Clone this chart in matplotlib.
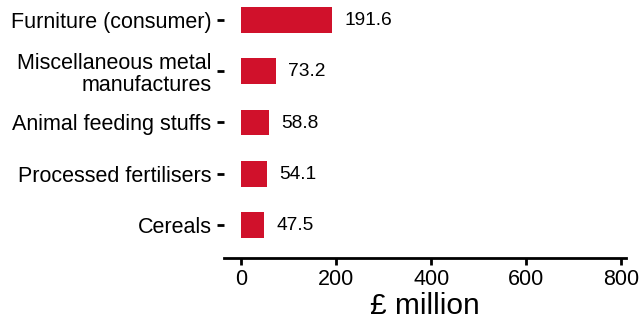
import matplotlib.pyplot as plt

plt.rcParams['font.family'] = ['Liberation Sans', 'DejaVu Sans']

categories = ["Furniture (consumer)", "Miscellaneous metal\nmanufactures",
              "Animal feeding stuffs", "Processed fertilisers", "Cereals"]
values = [191.6, 73.2, 58.8, 54.1, 47.5]
value_labels = ["191.6", "73.2", "58.8", "54.1", "47.5"]
x_ticks = [0, 200, 400, 600, 800]

fig = plt.figure(figsize=(6.41, 3.19), dpi=100)
ax = fig.add_axes([224 / 641, (319 - 258) / 319, (626 - 224) / 641, 258 / 319])

pos = list(range(len(categories)))
ax.barh(pos, values, height=0.5, color="#d0112b")
for p, v, lab in zip(pos, values, value_labels):
    ax.annotate(lab, (v, p), xytext=(9, -0.5), textcoords="offset points",
                va="center", ha="left", fontsize=13.8, color="#000000")

ax.set_yticks(pos)
ax.set_yticklabels(categories, fontsize=15.5, color="#000000", ha="right",
                   linespacing=1.1)
ax.set_xticks(x_ticks)
ax.set_xticklabels([str(t) for t in x_ticks], fontsize=15.5, color="#000000")
ax.set_xlim(-36, 810)
ax.set_ylim(4.644, -0.39)

for s in ["top", "right", "left"]:
    ax.spines[s].set_visible(False)
ax.spines["bottom"].set_linewidth(2)
ax.spines["bottom"].set_color("#000000")
ax.tick_params(axis="x", length=5, width=2, color="#000000", pad=3)
ax.tick_params(axis="y", length=5, width=2, color="#000000", pad=4)

ax.set_xlabel("£ million", fontsize=21.5, color="#000000", labelpad=1.5)

fig.savefig("out.png", dpi=100)
